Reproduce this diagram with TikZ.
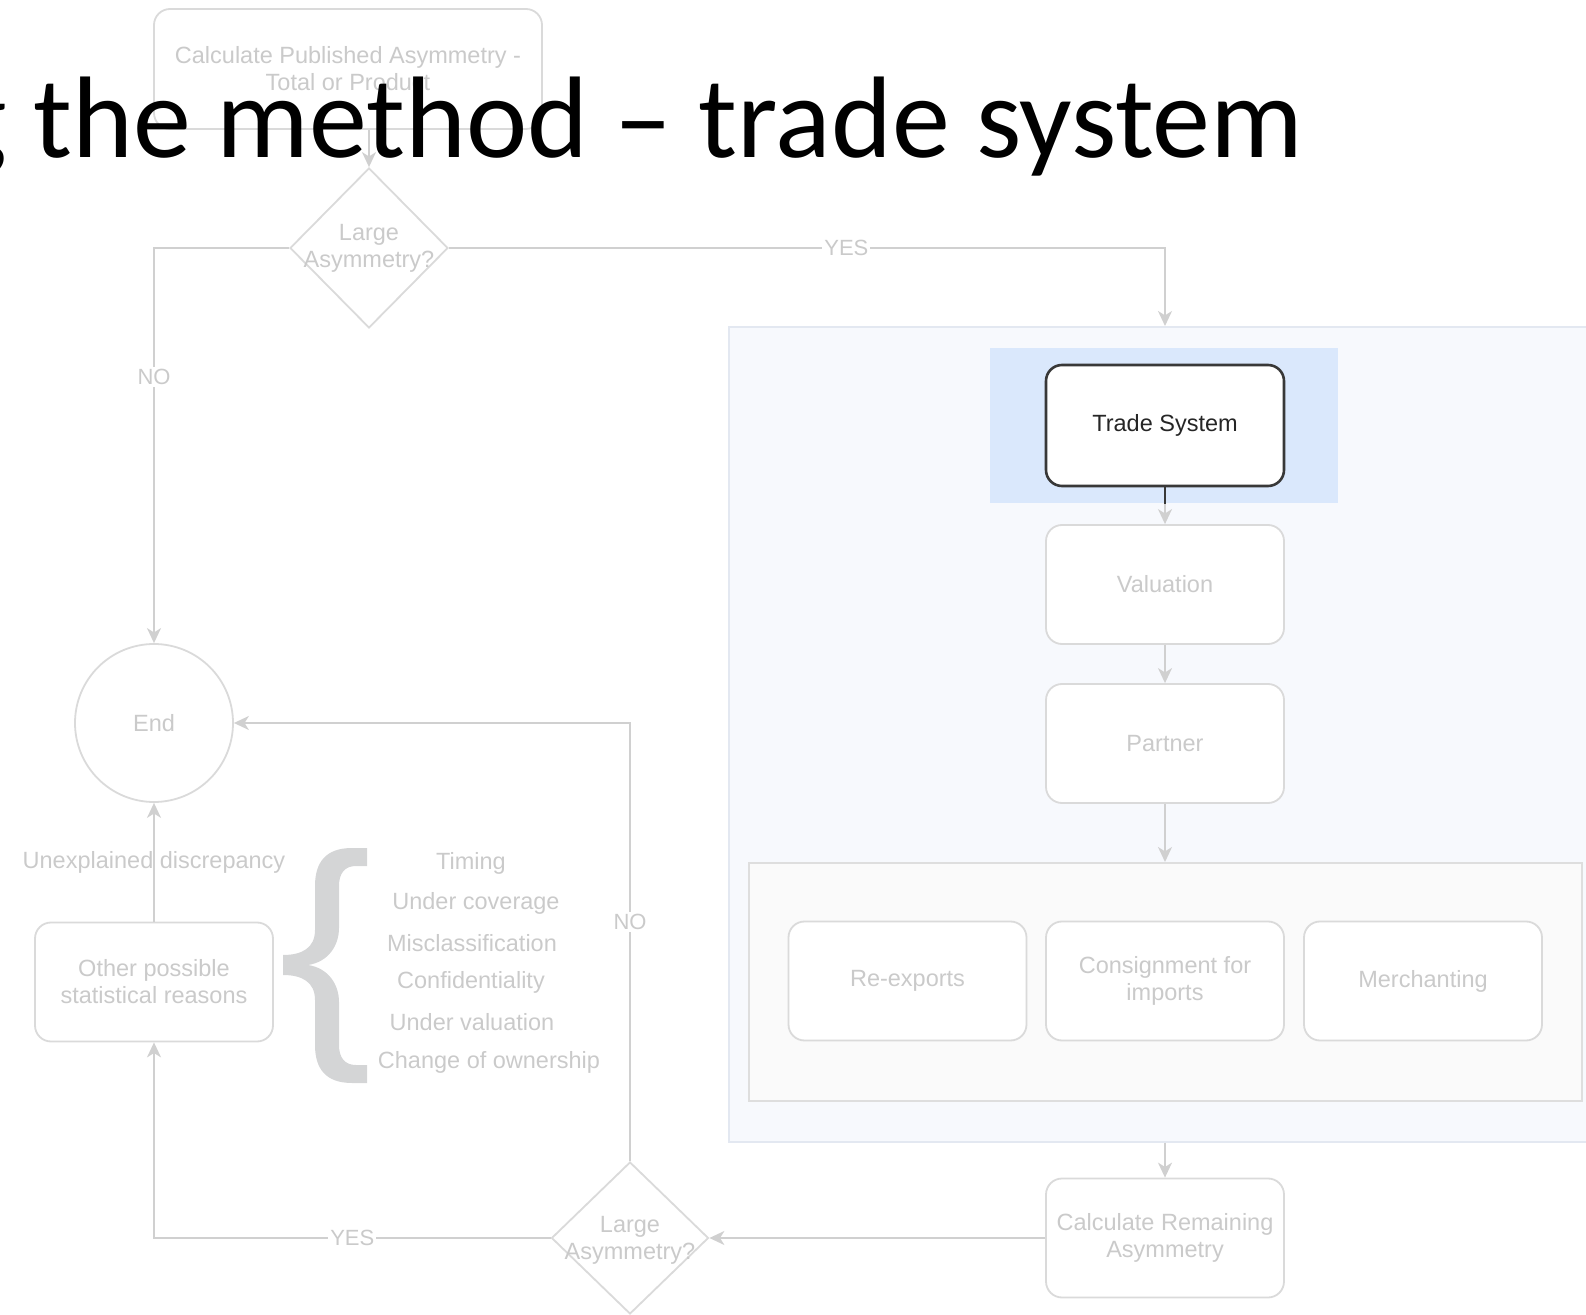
\documentclass[tikz,border=0pt]{standalone}
\usepackage{fontspec}
\setmainfont{Liberation Sans}
\newfontfamily\titlefont{Carlito}
\usetikzlibrary{shapes.geometric,arrows.meta}

\definecolor{fadetext}{HTML}{CACACA}
\definecolor{fadeline}{HTML}{D0D0D0}
\definecolor{fadeedge}{HTML}{DADADA}
\definecolor{selfill}{HTML}{DAE8FC}
\definecolor{groupfill}{HTML}{F7F9FD}
\definecolor{groupedge}{HTML}{E3E8F1}
\definecolor{subfill}{HTML}{FAFAFA}
\definecolor{subedge}{HTML}{DEDEDE}
\definecolor{bracegray}{HTML}{D4D5D6}

\begin{document}
\begin{tikzpicture}[x=0.5pt,y=-0.5pt,
  every node/.style={font=\fontsize{11.75}{13.5}\selectfont, text=fadetext},
  stepbox/.style={draw=fadeedge, line width=0.9pt, fill=white, rounded corners=8pt,
    minimum width=119pt, minimum height=59.5pt, inner sep=0pt, align=center},
  decision/.style={diamond, draw=fadeedge, line width=0.9pt, fill=white, inner sep=0pt},
  flow/.style={draw=fadeline, line width=0.9pt, -{Stealth[length=7.5pt,width=7pt,inset=2.2pt]}},
  edgelabel/.style={fill=white, inner sep=1pt, font=\fontsize{11}{13}\selectfont},
  itemtext/.style={inner sep=0pt},
]
\useasboundingbox (0,0) rectangle (1586,1315);
\begin{scope}
\clip (0,0) rectangle (1586,1315);

% ---- left part of the flow ----
\node[stepbox, minimum width=194pt, minimum height=60pt] (pub) at (348,69)
  {Calculate Published Asymmetry -\\Total or Product};
\node[decision, minimum width=79pt, minimum height=80pt] (dec1) at (369,248) {};
\node[align=center, inner sep=0pt] (dec1text) at (369,248) {Large\\Asymmetry?};

\node[circle, draw=fadeedge, line width=0.9pt, fill=white, minimum size=79pt, inner sep=0pt] (endc) at (154,723) {End};
\node[stepbox] (other) at (154,982) {Other possible\\statistical reasons};

\node[decision, minimum width=78.5pt, minimum height=76pt] (dec2) at (630,1238) {};
\node[align=center, inner sep=0pt] (dec2text) at (630,1240) {Large\\Asymmetry?};

% ---- grouped checks on the right ----
\node[draw=groupedge, fill=groupfill, line width=0.8pt, anchor=north west,
  minimum width=440pt, minimum height=407.5pt, inner sep=0pt] (group) at (728,326) {};
\node[draw=subedge, fill=subfill, line width=0.8pt, anchor=north west,
  minimum width=416.5pt, minimum height=119pt, inner sep=0pt] (sub) at (748,862) {};

\node[stepbox] (val) at (1165,584.5) {Valuation};
\node[stepbox] (partner) at (1165,743.5) {Partner};
\node[stepbox] (reexp) at (907.5,981) {Re-exports};
\node[stepbox] (consign) at (1165,981) {Consignment for\\imports};
\node[stepbox] (merch) at (1423,981) {Merchanting};
\node[stepbox] (calc) at (1165,1238) {Calculate Remaining\\Asymmetry};

% current step, selected
\draw[flow] (1165,486) -- (val.north);
\node[fill=selfill, anchor=north west, minimum width=174pt, minimum height=77.5pt, inner sep=0pt] (sel) at (990,348) {};
\node[stepbox, draw=black!78, line width=1.3pt, text=black!85, minimum height=60.5pt] (ts) at (1165,425.5) {Trade System};
\draw[black!78, line width=1.3pt] (ts.south) -- (ts.south |- sel.south);

% ---- connectors ----
\draw[flow] (pub.south -| dec1.north) -- (dec1.north);
\draw[flow] (dec1.east) -- node[edgelabel, pos=0.555] {YES} (dec1.east -| ts.north) -- (ts.north |- group.north);
\draw[flow] (dec1.west) -- (dec1.west -| endc.north) -- node[edgelabel, pos=0.326] {NO} (endc.north);
\draw[flow] (val.south) -- (partner.north);
\draw[flow] (partner.south) -- (partner.south |- sub.north);
\draw[flow] (calc.north |- group.south) -- (calc.north);
\draw[flow] (calc.west) -- (dec2.east);
\draw[flow] (dec2.west) -- node[edgelabel, pos=0.5] {YES} (dec2.west -| other.south) -- (other.south);
\draw[flow] (dec2.north) -- node[edgelabel, pos=0.546] {NO} (dec2.north |- endc.east) -- (endc.east);
\draw[flow] (other.north) -- node[inner sep=0pt, pos=0.5] (unexp) {Unexplained discrepancy} (endc.south);

% ---- brace and list of reasons ----
\fill[bracegray] (367,848) -- (352,848)
  .. controls (326,848) and (315,862) .. (315,886) -- (315,930)
  .. controls (315,948) and (302,955) .. (283,955) -- (283,975)
  .. controls (302,975) and (315,982) .. (315,1000) -- (315,1045)
  .. controls (315,1069) and (326,1083) .. (352,1083) -- (367,1083) -- (367,1065) -- (356,1065)
  .. controls (345,1065) and (339,1058) .. (339,1045) -- (339,1002)
  .. controls (339,984) and (328,968) .. (308,965)
  .. controls (328,962) and (339,946) .. (339,928) -- (339,886)
  .. controls (339,873) and (345,866) .. (356,866) -- (367,866) -- cycle;

\node[itemtext] (r1) at (471,863) {Timing};
\node[itemtext] (r2) at (476,903) {Under coverage};
\node[itemtext] (r3) at (472,943) {Misclassification};
\node[itemtext] (r4) at (471,982) {Confidentiality};
\node[itemtext] (r5) at (472,1022) {Under valuation};
\node[itemtext] (r6) at (489,1062) {Change of ownership};

% ---- slide title ----
\node[anchor=base west, inner sep=0pt, text=black, font=\titlefont\fontsize{58}{61}\selectfont] (title) at (-48,158) {g the method – trade system};
\end{scope}
\end{tikzpicture}
\end{document}
